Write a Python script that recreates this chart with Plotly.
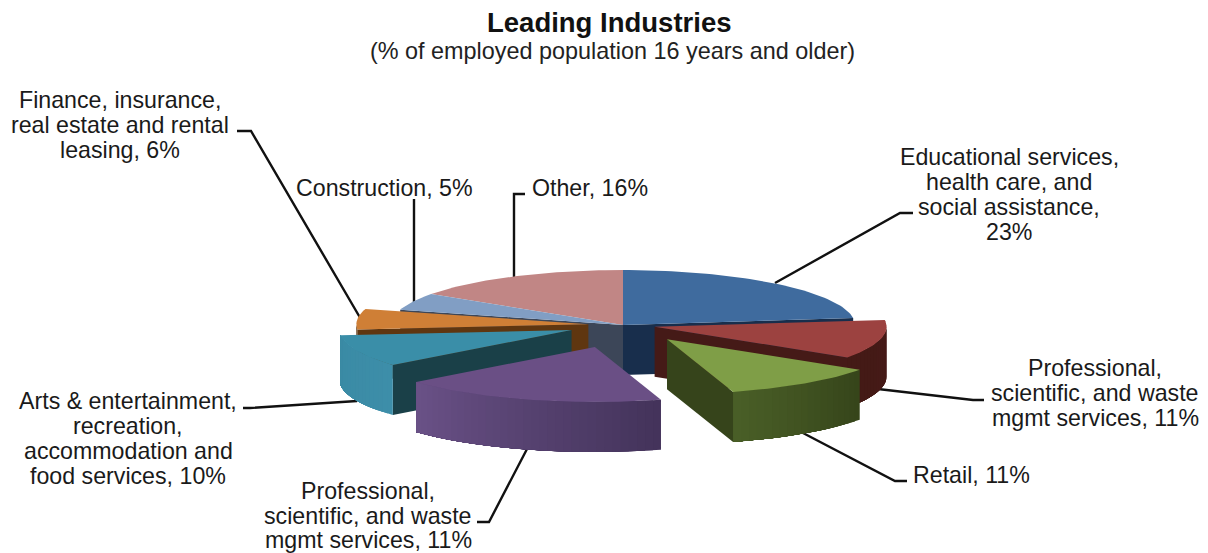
import math
import plotly.graph_objects as go

# ---- data ----
slice_labels = [["Educational services,", "health care, and", "social assistance,", "23%"],
                ["Professional,", "scientific, and waste", "mgmt services, 11%"],
                ["Retail, 11%"],
                ["Professional,", "scientific, and waste", "mgmt services, 11%"],
                ["Arts &amp; entertainment,", "recreation,", "accommodation and", "food services, 10%"],
                ["Finance, insurance,", "real estate and rental", "leasing, 6%"],
                ["Construction, 5%"],
                ["Other, 16%"]]
# share of the circle each slice occupies as drawn (the printed labels differ for the
# purple slice, which is visibly bigger than its 11% label)
drawn_share = [23, 11.4, 11, 18.6, 9.5, 6, 5, 15.5]

# ---- style and layout ----
W, H = 1208, 553
CX, CY, RX, RY, DEPTH = 623, 325, 232, 55, 50
explode = [0, 0.14, 0.32, 0.417, 0.24, 0.15, 0, 0]
top_col = ["#3f6b9e", "#9c4240", "#7f9e47", "#6a4f85", "#3a8ea8", "#cf7f36", "#819ec4", "#c18685"]
radial_col = ["#182e4c", "#451a17", "#36441b", "#43335a", "#1a4048", "#5f3610", "#3c4658", "#5f4040"]
# outer wall colour at lower angle (right side) and higher angle (left side)
wall_col = [("#182e4c", "#182e4c"), ("#451a17", "#441a16"), ("#35441a", "#4a5f27"),
            ("#43335a", "#6a5187"), ("#3d8ea9", "#3a8aa4"), ("#5f3610", "#5f3610"),
            ("#3c4658", "#3c4658"), ("#5f4040", "#5f4040")]
paint_order = [7, 6, 0, 5, 4, 1, 3, 2]

label_pos = [(1009, 194.5), (1095, 393), (971, 475), (368, 515.5), (128, 438.5), (120, 125), (384, 188), (590, 188)]
LINE_STEP = 24.8
leaders = [[(775, 283), (900, 213), (913, 213)],
           [(878, 389), (973, 400), (984, 400)],
           [(803, 433), (895, 481), (907, 481)],
           [(527, 449), (489, 522), (477, 522)],
           [(357, 401), (250, 408), (243, 408)],
           [(362, 321), (251, 131), (237, 131)],
           [(414, 302), (414, 199)],
           [(514, 277), (514, 194), (525, 194)]]
FONT = "Liberation Sans, Arial, sans-serif"


def mix(a, b, t):
    pa = [int(a[i:i + 2], 16) for i in (1, 3, 5)]
    pb = [int(b[i:i + 2], 16) for i in (1, 3, 5)]
    return "rgb(%d,%d,%d)" % tuple(round(x + (y - x) * t) for x, y in zip(pa, pb))


def pt(ox, oy, deg):
    a = math.radians(deg)
    return ox + RX * math.sin(a), oy - RY * math.cos(a)


def poly(fig, xs, ys, color):
    fig.add_trace(go.Scatter(x=xs, y=ys, mode="lines", fill="toself", fillcolor=color,
                             line=dict(color=color, width=0), hoverinfo="skip", showlegend=False))


fig = go.Figure()

total = sum(drawn_share)
edges = [0]
for v in drawn_share:
    edges.append(edges[-1] + v / total * 360)
count = len(drawn_share)

for i in paint_order:
    a0, a1 = edges[i], edges[i + 1]
    mid = math.radians((a0 + a1) / 2)
    ox = CX + explode[i] * RX * math.sin(mid)
    oy = CY - explode[i] * RY * math.cos(mid)

    # cut faces that look towards the viewer
    if math.sin(math.radians(a0)) < 0 and (explode[(i - 1) % count] != explode[i] or explode[i] > 0):
        ex, ey = pt(ox, oy, a0)
        poly(fig, [ox, ex, ex, ox, ox], [oy, ey, ey + DEPTH, oy + DEPTH, oy], radial_col[i])
    if math.sin(math.radians(a1)) > 0.001:
        ex, ey = pt(ox, oy, a1)
        poly(fig, [ox, ex, ex, ox, ox], [oy, ey, ey + DEPTH, oy + DEPTH, oy], radial_col[i])

    # curved outer wall: shaded pieces, each running to the wall's far end so no seams show
    w0, w1 = max(a0, 90), min(a1, 270)
    if w1 > w0:
        n = max(2, int((w1 - w0) / 2))
        for k in range(n):
            s0 = w0 + (w1 - w0) * k / n
            m = 8
            xs = [pt(ox, oy, s0 + (w1 - s0) * j / m)[0] for j in range(m + 1)]
            ys = [pt(ox, oy, s0 + (w1 - s0) * j / m)[1] for j in range(m + 1)]
            poly(fig, xs + xs[::-1] + [xs[0]], ys + [y + DEPTH for y in ys[::-1]] + [ys[0]],
                 mix(wall_col[i][0], wall_col[i][1], (k + 0.5) / n))

    # top face
    steps = max(3, int((a1 - a0) / 1.5))
    arc = [pt(ox, oy, a0 + (a1 - a0) * k / steps) for k in range(steps + 1)]
    poly(fig, [ox] + [p[0] for p in arc] + [ox], [oy] + [p[1] for p in arc] + [oy], top_col[i])

shapes = []
for line in leaders:
    path = "M " + " L ".join(f"{x} {y}" for x, y in line)
    shapes.append(dict(type="path", path=path, xref="x", yref="y", layer="below",
                       line=dict(color="#111111", width=2.4)))

annotations = [
    dict(x=609, y=22, text="<b>Leading Industries</b>", font=dict(size=27.5, color="#111111", family=FONT)),
    dict(x=612, y=51, text="(% of employed population 16 years and older)",
         font=dict(size=23.4, color="#222222", family=FONT)),
]
for lines, (x, y) in zip(slice_labels, label_pos):
    for j, text in enumerate(lines):
        annotations.append(dict(x=x, y=y + (j - (len(lines) - 1) / 2) * LINE_STEP, text=text,
                                font=dict(size=23.2, color="#1a1a1a", family=FONT)))
for a in annotations:
    a.update(xref="x", yref="y", showarrow=False, xanchor="center", yanchor="middle", align="center")

fig.update_layout(
    width=W, height=H, autosize=False, margin=dict(l=0, r=0, t=0, b=0),
    paper_bgcolor="white", plot_bgcolor="white", showlegend=False,
    xaxis=dict(range=[0, W], visible=False, fixedrange=True),
    yaxis=dict(range=[H, 0], visible=False, fixedrange=True),
    shapes=shapes, annotations=annotations,
)
fig.write_html("out.html", config={"displayModeBar": False},
               post_script="document.body.style.margin='0';document.body.style.overflow='hidden';")
